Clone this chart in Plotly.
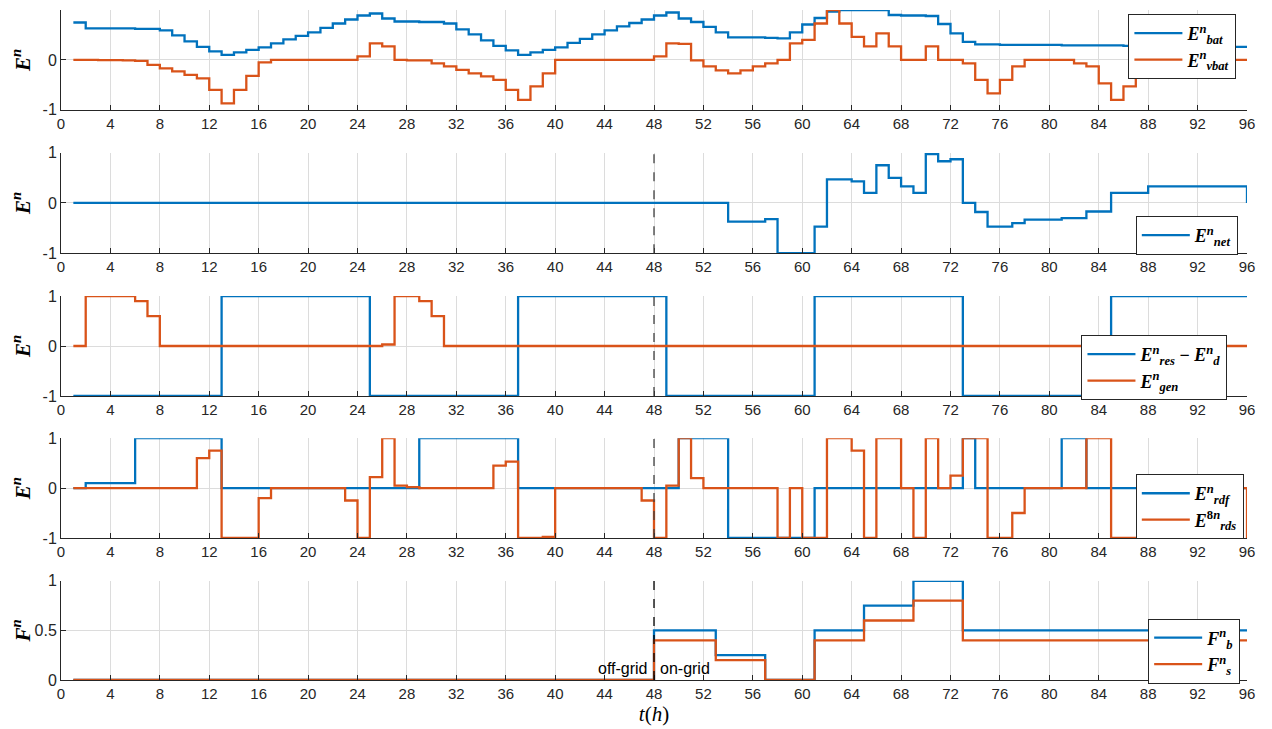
import plotly.graph_objects as go
from plotly.subplots import make_subplots

# ---------------- data ----------------
hours = list(range(1, 97))

E_bat = [0.75, 0.63, 0.63, 0.63, 0.63, 0.62, 0.62, 0.59, 0.49, 0.37, 0.26, 0.17,
         0.10, 0.15, 0.20, 0.25, 0.33, 0.41, 0.48, 0.55, 0.64, 0.73, 0.81, 0.89,
         0.93, 0.83, 0.77, 0.77, 0.76, 0.76, 0.73, 0.61, 0.51, 0.39, 0.28, 0.19,
         0.10, 0.15, 0.20, 0.25, 0.34, 0.42, 0.51, 0.59, 0.67, 0.74, 0.81, 0.89,
         0.95, 0.83, 0.76, 0.66, 0.55, 0.45, 0.45, 0.45, 0.44, 0.43, 0.55, 0.71,
         0.84, 0.97, 1.00, 1.00, 1.00, 1.00, 0.90, 0.89, 0.89, 0.88, 0.72, 0.53,
         0.36, 0.31, 0.31, 0.30, 0.30, 0.30, 0.30, 0.30, 0.29, 0.29, 0.29, 0.29,
         0.29, 0.28, 0.28, 0.28, 0.28, 0.28, 0.27, 0.27, 0.27, 0.26, 0.26, 0.26]

E_vbat = [0.0, 0.0, -0.005, -0.005, -0.01, -0.02, -0.10, -0.17, -0.23, -0.30, -0.37, -0.60,
          -0.87, -0.60, -0.32, -0.05, 0.0, 0.0, 0.0, 0.0, 0.0, 0.0, 0.0, 0.07,
          0.33, 0.27, 0.0, -0.01, -0.01, -0.07, -0.13, -0.20, -0.27, -0.33, -0.40, -0.60,
          -0.80, -0.53, -0.27, 0.0, 0.0, 0.0, 0.0, 0.0, 0.0, 0.0, 0.0, 0.07,
          0.33, 0.32, -0.01, -0.13, -0.21, -0.27, -0.21, -0.13, -0.07, 0.0, 0.33, 0.40,
          0.73, 1.00, 0.73, 0.46, 0.27, 0.53, 0.27, 0.0, 0.0, 0.27, 0.0, 0.0,
          -0.07, -0.40, -0.67, -0.40, -0.13, 0.0, 0.0, 0.0, 0.0, -0.07, -0.13, -0.47,
          -0.80, -0.53, -0.27, 0.0, 0.0, 0.0, 0.0, 0.0, 0.0, 0.0, 0.0, 0.0]

E_net = [0.0, 0.0, 0.0, 0.0, 0.0, 0.0, 0.0, 0.0, 0.0, 0.0, 0.0, 0.0,
         0.0, 0.0, 0.0, 0.0, 0.0, 0.0, 0.0, 0.0, 0.0, 0.0, 0.0, 0.0,
         0.0, 0.0, 0.0, 0.0, 0.0, 0.0, 0.0, 0.0, 0.0, 0.0, 0.0, 0.0,
         0.0, 0.0, 0.0, 0.0, 0.0, 0.0, 0.0, 0.0, 0.0, 0.0, 0.0, 0.0,
         0.0, 0.0, 0.0, 0.0, 0.0, -0.37, -0.37, -0.37, -0.32, -1.0, -1.0, -1.0,
         -0.47, 0.47, 0.47, 0.43, 0.20, 0.75, 0.50, 0.33, 0.20, 0.97, 0.83, 0.87,
         0.0, -0.18, -0.47, -0.47, -0.40, -0.33, -0.33, -0.33, -0.30, -0.30, -0.17, -0.17,
         0.20, 0.20, 0.20, 0.33, 0.33, 0.33, 0.33, 0.33, 0.33, 0.33, 0.33, 0.0]

E_res_d = [-1, -1, -1, -1, -1, -1, -1, -1, -1, -1, -1, -1,
           1, 1, 1, 1, 1, 1, 1, 1, 1, 1, 1, 1,
           -1, -1, -1, -1, -1, -1, -1, -1, -1, -1, -1, -1,
           1, 1, 1, 1, 1, 1, 1, 1, 1, 1, 1, 1,
           -1, -1, -1, -1, -1, -1, -1, -1, -1, -1, -1, -1,
           1, 1, 1, 1, 1, 1, 1, 1, 1, 1, 1, 1,
           -1, -1, -1, -1, -1, -1, -1, -1, -1, -1, -1, -1,
           1, 1, 1, 1, 1, 1, 1, 1, 1, 1, 1, 1]

E_gen = [0.0, 1.0, 1.0, 1.0, 1.0, 0.9, 0.6, 0.0, 0.0, 0.0, 0.0, 0.0,
         0.0, 0.0, 0.0, 0.0, 0.0, 0.0, 0.0, 0.0, 0.0, 0.0, 0.0, 0.0,
         0.0, 0.03, 1.0, 1.0, 0.9, 0.6, 0.0, 0.0, 0.0, 0.0, 0.0, 0.0,
         0.0, 0.0, 0.0, 0.0, 0.0, 0.0, 0.0, 0.0, 0.0, 0.0, 0.0, 0.0,
         0.0, 0.0, 0.0, 0.0, 0.0, 0.0, 0.0, 0.0, 0.0, 0.0, 0.0, 0.0,
         0.0, 0.0, 0.0, 0.0, 0.0, 0.0, 0.0, 0.0, 0.0, 0.0, 0.0, 0.0,
         0.0, 0.0, 0.0, 0.0, 0.0, 0.0, 0.0, 0.0, 0.0, 0.0, 0.0, 0.0,
         0.0, 0.0, 0.0, 0.0, 0.0, 0.0, 0.0, 0.0, 0.0, 0.0, 0.0, 0.0]

E_rdf = [0.0, 0.1, 0.1, 0.1, 0.1, 1.0, 1.0, 1.0, 1.0, 1.0, 1.0, 1.0,
         0.0, 0.0, 0.0, 0.0, 0.0, 0.0, 0.0, 0.0, 0.0, 0.0, 0.0, 0.0,
         0.0, 0.0, 0.0, 0.0, 1.0, 1.0, 1.0, 1.0, 1.0, 1.0, 1.0, 1.0,
         0.0, 0.0, 0.0, 0.0, 0.0, 0.0, 0.0, 0.0, 0.0, 0.0, 0.0, 0.0,
         0.0, 1.0, 1.0, 1.0, 1.0, -1.0, -1.0, -1.0, -1.0, -1.0, -1.0, -1.0,
         0.0, 0.0, 0.0, 0.0, 0.0, 0.0, 0.0, 0.0, 0.0, 0.0, 0.0, 0.0,
         1.0, 0.0, 0.0, 0.0, 0.0, 0.0, 0.0, 0.0, 1.0, 1.0, 0.0, 0.0,
         0.0, 0.0, 0.0, 0.0, 0.0, 0.0, 0.0, 0.0, 0.0, 0.0, 0.0, 0.0]

E_rds = [0.0, 0.0, 0.0, 0.0, 0.0, 0.0, 0.0, 0.0, 0.0, 0.0, 0.6, 0.75,
         -1.0, -1.0, -1.0, -0.2, 0.0, 0.0, 0.0, 0.0, 0.0, 0.0, -0.25, -1.0,
         0.22, 1.0, 0.05, 0.02, 0.0, 0.0, 0.0, 0.0, 0.0, 0.0, 0.45, 0.53,
         -1.0, -1.0, -0.98, 0.0, 0.0, 0.0, 0.0, 0.0, 0.0, 0.0, -0.25, -1.0,
         0.05, 1.0, 0.2, 0.0, 0.0, 0.0, 0.0, 0.0, 0.0, -1.0, 0.0, -1.0,
         -1.0, 1.0, 1.0, 0.75, -1.0, 1.0, 1.0, 0.0, -1.0, 1.0, 0.0, 0.25,
         1.0, 1.0, -1.0, -1.0, -0.5, 0.0, 0.0, 0.0, 0.0, 0.0, 1.0, 1.0,
         -1.0, -1.0, -1.0, 0.0, 0.0, 0.0, 0.0, 0.0, 0.0, 0.0, 0.0, -1.0]

F_b = [0.0] * 47 + [0.5, 0.5, 0.5, 0.5, 0.5, 0.25, 0.25, 0.25, 0.25, 0.0, 0.0, 0.0,
                    0.0, 0.5, 0.5, 0.5, 0.5, 0.75, 0.75, 0.75, 0.75, 1.0, 1.0, 1.0,
                    1.0, 0.5, 0.5, 0.5, 0.5, 0.5, 0.5, 0.5, 0.5, 0.5, 0.5, 0.5,
                    0.5, 0.5, 0.5, 0.5, 0.5, 0.5, 0.5, 0.5, 0.5, 0.5, 0.5, 0.5, 0.5]
F_s = [0.0] * 47 + [0.4, 0.4, 0.4, 0.4, 0.4, 0.2, 0.2, 0.2, 0.2, 0.0, 0.0, 0.0,
                    0.0, 0.4, 0.4, 0.4, 0.4, 0.6, 0.6, 0.6, 0.6, 0.8, 0.8, 0.8,
                    0.8, 0.4, 0.4, 0.4, 0.4, 0.4, 0.4, 0.4, 0.4, 0.4, 0.4, 0.4,
                    0.4, 0.4, 0.4, 0.4, 0.4, 0.4, 0.4, 0.4, 0.4, 0.4, 0.4, 0.4, 0.4]

x_ticks = list(range(0, 97, 4))
switch_hour = 48

# ---------------- styling ----------------
BLUE = "#0072BD"
ORANGE = "#D95319"
SERIF = "Liberation Serif"
SANS = "Liberation Sans"


def lbl(base, sup, sub):
    return f"<b><i>{base}</i><sup>{sup}</sup><sub><i>{sub}</i></sub></b>"


domains = [(0.851, 1.0), (0.637, 0.787), (0.424, 0.573), (0.212, 0.361), (0.0, 0.148)]
yranges = [(-1, 1), (-1, 1), (-1, 1), (-1, 1), (0, 1)]

fig = make_subplots(rows=5, cols=1)

panels = [
    [(E_bat, BLUE, lbl("E", "<i>n</i>", "bat")), (E_vbat, ORANGE, lbl("E", "<i>n</i>", "vbat"))],
    [(E_net, BLUE, lbl("E", "<i>n</i>", "net"))],
    [(E_res_d, BLUE, lbl("E", "<i>n</i>", "res") + "<b> − </b>" + lbl("E", "<i>n</i>", "d")),
     (E_gen, ORANGE, lbl("E", "<i>n</i>", "gen"))],
    [(E_rdf, BLUE, lbl("E", "<i>n</i>", "rdf")), (E_rds, ORANGE, lbl("E", "8<i>n</i>", "rds"))],
    [(F_b, BLUE, lbl("F", "<i>n</i>", "b")), (F_s, ORANGE, lbl("F", "<i>n</i>", "s"))],
]

legend_names = ["legend", "legend2", "legend3", "legend4", "legend5"]
# legend top-left corner in data coords (x in hours, y in panel units)
legend_pos = [(86.4, 0.92), (87.0, -0.26), (82.6, 0.22), (87.0, 0.28), (88.0, 0.62)]

for i, series in enumerate(panels):
    for vals, col, name in series:
        fig.add_trace(go.Scatter(x=hours, y=vals, mode="lines", line=dict(color=col, width=2.3, shape="hv"),
                                 name=name, legend=legend_names[i], showlegend=True),
                      row=i + 1, col=1)

layout_upd = {}
for i in range(5):
    ax = "" if i == 0 else str(i + 1)
    lo, hi = yranges[i]
    d0, d1 = domains[i]
    if i < 4:
        tv = [-1, 0, 1]
        tt = ["-1", "0", "1"]
        title = "<b><i>E</i><sup><i>n</i></sup></b>"
    else:
        tv = [0, 0.5, 1]
        tt = ["0", "0.5", "1"]
        title = "<b><i>F</i><sup><i>n</i></sup></b>"
    layout_upd["yaxis" + ax] = dict(
        domain=[d0, d1], range=[lo, hi], tickvals=tv, ticktext=tt, automargin=False,
        showgrid=True, gridcolor="#dcdcdc", gridwidth=1, zeroline=False,
        showline=True, linecolor="#262626", linewidth=1, ticks="inside", ticklen=5,
        tickcolor="#262626", tickfont=dict(family=SANS, size=16, color="#262626"),
        title=dict(text=title, font=dict(family=SERIF, size=21, color="#000"), standoff=6),
    )
    layout_upd["xaxis" + ax] = dict(
        range=[0, 96], tickvals=x_ticks, ticktext=[str(v) for v in x_ticks], automargin=False,
        showgrid=True, gridcolor="#dcdcdc", gridwidth=1, zeroline=False,
        showline=True, linecolor="#262626", linewidth=1, ticks="inside", ticklen=5,
        tickcolor="#262626", tickfont=dict(family=SANS, size=15, color="#262626"),
        anchor="y" + ax,
    )
    lx, ly = legend_pos[i]
    layout_upd[legend_names[i]] = dict(
        x=lx / 96, y=d0 + (ly - lo) / (hi - lo) * (d1 - d0), xanchor="left", yanchor="top",
        bgcolor="white", bordercolor="#262626", borderwidth=1, itemwidth=48,
        font=dict(family=SERIF, size=18, color="#000"), tracegroupgap=0,
    )
    if i >= 1:
        fig.add_shape(type="line", x0=switch_hour, x1=switch_hour, y0=0, y1=1,
                      xref="x" + ax, yref=f"y{ax} domain",
                      line=dict(color="#000" if i == 4 else "#404040", width=1.3, dash="dash"))

layout_upd["xaxis5"]["title"] = dict(text="<i>t</i>(<i>h</i>)", font=dict(family=SERIF, size=21, color="#000"),
                                     standoff=2)

fig.update_layout(**layout_upd)

fig.add_annotation(x=switch_hour, y=0.12, xref="x5", yref="y5", text="off-grid", showarrow=False,
                   xanchor="right", xshift=-4, font=dict(family=SANS, size=16, color="#000"))
fig.add_annotation(x=switch_hour, y=0.12, xref="x5", yref="y5", text="on-grid", showarrow=False,
                   xanchor="left", xshift=4, font=dict(family=SANS, size=16, color="#000"))

# page body has an 8px margin, so the figure is sized/offset to land where the reference axes are
fig.update_layout(width=1264, height=721, margin=dict(l=53, r=25, t=2, b=49, autoexpand=False),
                  plot_bgcolor="white", paper_bgcolor="white")

fig.write_html("out.html")
